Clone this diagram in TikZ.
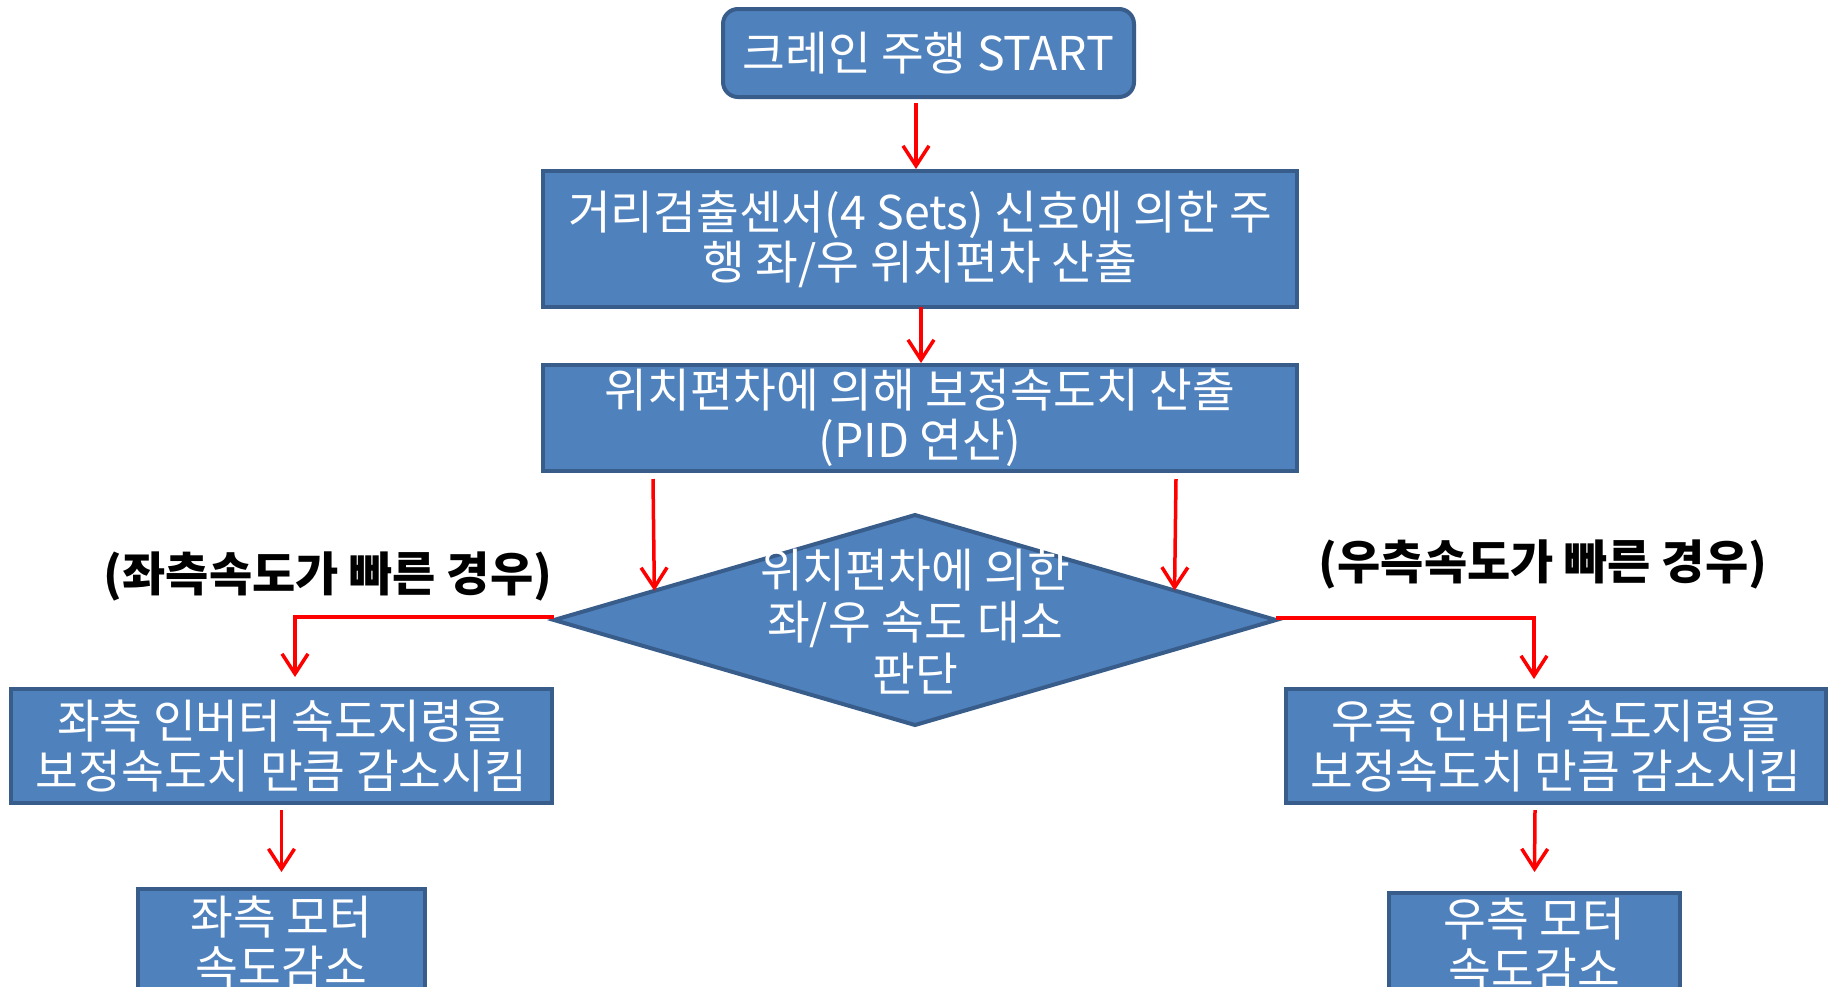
\documentclass[tikz,border=0pt]{standalone}
\usepackage{fontspec}
\usetikzlibrary{shapes.geometric,arrows.meta,calc}
\newfontfamily\kr{Noto Sans CJK KR}
\definecolor{boxfill}{HTML}{4F81BD}
\definecolor{boxline}{HTML}{385D8A}
\tikzset{
  box/.style={draw=boxline, fill=boxfill, line width=4pt, text=white,
    font=\kr\fontsize{46.5}{50}\selectfont, align=center, inner sep=0pt, outer sep=0pt},
  dshape/.style={diamond, draw=boxline, fill=boxfill, line width=4pt, inner sep=0pt, outer sep=0pt},
  dtext/.style={text=white, font=\kr\fontsize{46.5}{52}\selectfont, align=center, inner sep=0pt},
  arr/.style={draw=red, line width=3.5pt, -{Straight Barb[length=20pt,width=26pt]}},
  lbl/.style={font=\kr\bfseries\fontsize{47}{50}\selectfont, text=black, inner sep=0pt},
}
\begin{document}
\begin{tikzpicture}[x=1pt,y=-1pt]
\useasboundingbox (0,0) rectangle (1835,986);
\clip (0,0) rectangle (1835,986);
\fill[white] (0,0) rectangle (1835,986);

\node[box, rounded corners=15pt, minimum width=411pt, minimum height=88pt] (s) at (928.5,53) {크레인 주행 START};
\node[box, minimum width=754pt, minimum height=136pt] (b2) at (920,239) {거리검출센서(4 Sets) 신호에 의한 주\\행 좌/우 위치편차 산출};
\node[box, minimum width=754pt, minimum height=106pt] (b3) at (920,418) {위치편차에 의해 보정속도치 산출\\(PID 연산)};
\node[dshape, minimum width=722pt, minimum height=210pt] (d) at (915,620) {};
\node[dtext] (dt) at (915,622) {위치편차에 의한\\좌/우 속도 대소\\판단};
\node[box, minimum width=541pt, minimum height=114pt] (lb) at (281.5,746) {좌측 인버터 속도지령을\\보정속도치 만큼 감소시킴};
\node[box, minimum width=540pt, minimum height=114pt] (rb) at (1556,746) {우측 인버터 속도지령을\\보정속도치 만큼 감소시킴};
\node[box, minimum width=287pt, minimum height=106pt] (bl) at (281.5,942) {좌측 모터\\속도감소};
\node[box, minimum width=291pt, minimum height=102pt] (br) at (1534.5,944) {우측 모터\\속도감소};

\node[lbl] (ll) at (328,576) {(좌측속도가 빠른 경우)};
\node[lbl] (rl) at (1543,564) {(우측속도가 빠른 경우)};

\coordinate (dl) at ($(d.west)!0.278!(d.north)$);
\coordinate (dr) at ($(d.east)!0.281!(d.north)$);

\draw[arr] ([xshift=-12.5pt,yshift=-6pt]s.south) -- ([xshift=-4pt,yshift=2pt]b2.north);
\draw[arr] ([xshift=1pt]b2.south) -- ([xshift=1pt,yshift=2pt]b3.north);
\draw[arr] ([xshift=-267pt,yshift=-8pt]b3.south) -- (dl);
\draw[arr] ([xshift=256pt,yshift=-8pt]b3.south) -- (dr);
\draw[arr] ([yshift=3pt]d.west) -| ([xshift=13.5pt,yshift=12pt]lb.north);
\draw[arr] ([yshift=2pt]d.east) -| ([xshift=-22pt,yshift=10pt]rb.north);
\draw[arr] ([yshift=-7pt]lb.south) -- ([yshift=17pt]bl.north);
\draw[arr] ([xshift=-21pt,yshift=-7pt]rb.south) -- ([yshift=21pt]br.north);
\end{tikzpicture}
\end{document}
